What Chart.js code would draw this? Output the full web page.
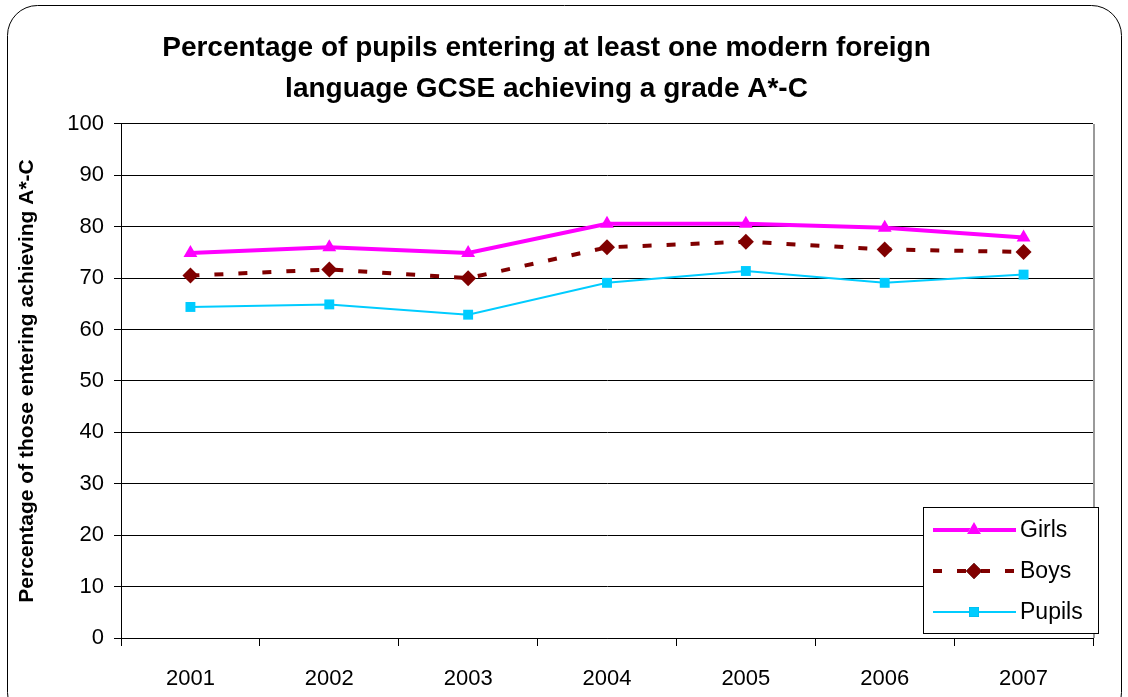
<!DOCTYPE html>
<html>
<head>
<meta charset="utf-8">
<script src="https://cdn.jsdelivr.net/npm/chart.js@4.4.1/dist/chart.umd.min.js"></script>
<style>
  html, body { margin: 0; padding: 0; background: #fff; }
  #wrap { position: absolute; left: 0; top: 0; width: 1128px; height: 697px; }
</style>
</head>
<body>
<div id="wrap"><canvas id="mflChart"></canvas></div>
<script>
    // Data
    const years = ['2001', '2002', '2003', '2004', '2005', '2006', '2007'];
    const girls = [74.9, 76.0, 74.9, 80.6, 80.6, 79.8, 77.9];
    const boys = [70.5, 71.7, 70.0, 76.0, 77.1, 75.6, 75.1];
    const pupils = [64.4, 64.9, 62.9, 69.1, 71.4, 69.1, 70.7];
    const yTicks = [0, 10, 20, 30, 40, 50, 60, 70, 80, 90, 100];

    const FONT = '"Liberation Sans", Arial, sans-serif';

    // Rounded outer frame, right border of plot and the boxed legend
    const framePlugin = {
      id: 'frame',
      beforeDraw(chart) {
        const c = chart.ctx;
        c.save();
        c.fillStyle = '#fff';
        c.fillRect(0, 0, chart.width, chart.height);
        c.beginPath();
        c.roundRect(7.5, 5.5, chart.width - 14, chart.height + 20, 30);
        c.strokeStyle = '#000';
        c.lineWidth = 1;
        c.stroke();
        c.restore();
      },
      afterDatasetsDraw(chart) {
        const c = chart.ctx;
        const a = chart.chartArea;
        c.save();
        // plot area right edge
        c.strokeStyle = '#9a9a9a';
        c.lineWidth = 2;
        c.beginPath();
        c.moveTo(a.right + 1, a.top);
        c.lineTo(a.right + 1, a.bottom);
        c.stroke();

        // legend box
        const x0 = a.right - 170, y0 = a.bottom - 131, w = 175, h = 126;
        c.fillStyle = '#fff';
        c.fillRect(x0, y0, w, h);
        c.strokeStyle = '#000';
        c.lineWidth = 1;
        c.strokeRect(x0 + 0.5, y0 + 0.5, w, h);
        chart.data.datasets.forEach((ds, i) => {
          const y = y0 + 23 + i * 41;
          c.strokeStyle = ds.borderColor;
          c.lineWidth = ds.borderWidth;
          c.setLineDash(ds.borderDash || []);
          c.beginPath();
          c.moveTo(x0 + 10, y);
          c.lineTo(x0 + 93, y);
          c.stroke();
          c.setLineDash([]);
          Chart.helpers.drawPoint(c, {
            pointStyle: ds.pointStyle,
            radius: ds.pointRadius,
            rotation: 0,
            borderWidth: 0
          }, x0 + 51, y);
          c.fillStyle = ds.pointBackgroundColor;
          c.fill();
          c.fillStyle = '#000';
          c.font = '23px ' + FONT;
          c.textBaseline = 'middle';
          c.textAlign = 'left';
          c.fillText(ds.label, x0 + 97, y + 1);
        });
        c.restore();
      }
    };

    const ctx = document.getElementById('mflChart').getContext('2d');
    new Chart(ctx, {
      type: 'line',
      data: {
        labels: years,
        datasets: [
          {
            label: 'Girls',
            data: girls,
            borderColor: '#ff00ff',
            backgroundColor: '#ff00ff',
            pointBackgroundColor: '#ff00ff',
            pointBorderColor: '#ff00ff',
            borderWidth: 4,
            pointStyle: 'triangle',
            pointRadius: 8,
            pointBorderWidth: 0
          },
          {
            label: 'Boys',
            data: boys,
            borderColor: '#800000',
            backgroundColor: '#800000',
            pointBackgroundColor: '#800000',
            pointBorderColor: '#800000',
            borderWidth: 4,
            borderDash: [9, 15],
            pointStyle: 'rectRot',
            pointRadius: 8,
            pointBorderWidth: 0
          },
          {
            label: 'Pupils',
            data: pupils,
            borderColor: '#00ccff',
            backgroundColor: '#00ccff',
            pointBackgroundColor: '#00ccff',
            pointBorderColor: '#00ccff',
            borderWidth: 2,
            pointStyle: 'rect',
            pointRadius: 7,
            pointBorderWidth: 0
          }
        ]
      },
      options: {
        responsive: true,
        maintainAspectRatio: false,
        animation: false,
        layout: { padding: { left: 0, right: 35, top: 0, bottom: 6 } },
        elements: { line: { tension: 0 } },
        scales: {
          x: {
            offset: true,
            afterFit: (scale) => { scale.height = 53; },
            grid: {
              offset: true,
              drawOnChartArea: false,
              drawTicks: true,
              tickLength: 8,
              color: '#000'
            },
            border: { color: '#000', width: 1 },
            ticks: { color: '#000', padding: 20, font: { family: FONT, size: 22 } }
          },
          y: {
            min: 0,
            max: 100,
            afterBuildTicks: (scale) => { scale.ticks = yTicks.map(v => ({ value: v })); },
            afterFit: (scale) => { scale.width = 121; },
            grid: { color: '#000', tickLength: 7, lineWidth: 1 },
            border: { color: '#000', width: 1 },
            ticks: { color: '#000', padding: 10, font: { family: FONT, size: 22 } },
            title: {
              display: true,
              text: 'Percentage of those entering achieving A*-C',
              color: '#000',
              padding: { top: 15, bottom: 0 },
              font: { family: FONT, size: 21, weight: 'bold' }
            }
          }
        },
        plugins: {
          legend: { display: false },
          tooltip: { enabled: false },
          title: {
            display: true,
            text: ['Percentage of pupils entering at least one modern foreign',
                   'language GCSE achieving a grade A*-C'],
            color: '#000',
            padding: { top: 28, bottom: 14 },
            font: { family: FONT, size: 28, weight: 'bold', lineHeight: 1.464 }
          }
        }
      },
      plugins: [framePlugin]
    });
</script>
</body>
</html>
